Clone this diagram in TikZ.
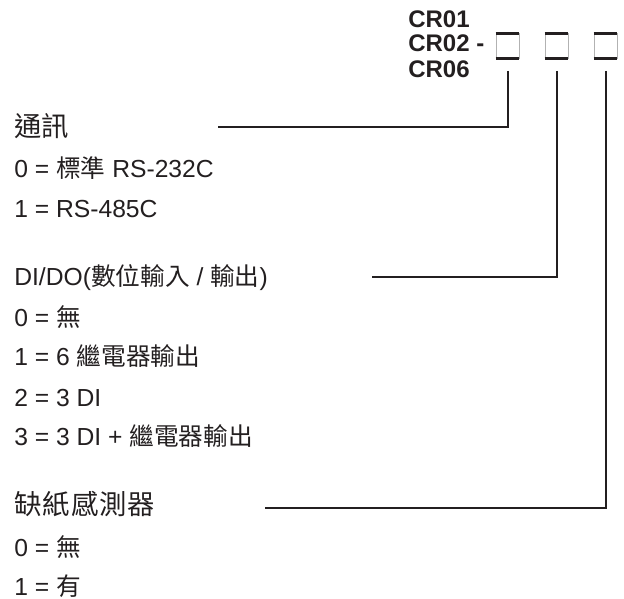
\documentclass[tikz,border=0pt]{standalone}
\usepackage{fontspec}
\setmainfont{Liberation Sans}
\newfontfamily\cjk{Noto Sans CJK TC}
\definecolor{ink}{RGB}{35,31,32}
\begin{document}
\begin{tikzpicture}[x=0.75pt,y=-0.75pt,
  txt/.style={anchor=base west,inner sep=0pt,font=\fontsize{18.5}{20}\selectfont,text=ink},
  head/.style={anchor=base west,inner sep=0pt,font=\fontsize{20.5}{22}\selectfont,text=ink},
  code/.style={anchor=base west,inner sep=0pt,font=\fontsize{18}{20}\selectfont\bfseries,text=ink},
  slot/.style={minimum width=17.25pt,minimum height=18.75pt,inner sep=0pt,draw=gray!60,line width=0.4pt},
  rule/.style={draw=ink,line width=2pt},
  conn/.style={draw=ink,line width=1.5pt}]
\useasboundingbox (0,0) rectangle (624,599);
% code
\node[code] (c1) at (408,28) {CR01};
\node[code] (c2) at (408,52) {CR02 -};
\node[code] (c3) at (408,78) {CR06};
\node[slot] (b1) at (507.5,46) {};
\node[slot] (b2) at (556.5,46) {};
\node[slot] (b3) at (605.5,46) {};
\foreach \b in {b1,b2,b3}{
  \draw[rule] (\b.north west) -- (\b.north east);
  \draw[rule] (\b.south west) -- (\b.south east);
}
% section 1
\node[head] (h1) at (14,137) {\cjk 通訊};
\node[txt] (s10) at (14,177) {0 = {\cjk 標準} RS-232C};
\node[txt] (s11) at (14,217) {1 = RS-485C};
% section 2
\node[txt] (h2) at (14,285) {DI/DO({\cjk 數位輸入} / {\cjk 輸出})};
\node[txt] (s20) at (14,326) {0 = {\cjk 無}};
\node[txt] (s21) at (14,365) {1 = 6 {\cjk 繼電器輸出}};
\node[txt] (s22) at (14,406) {2 = 3 DI};
\node[txt] (s23) at (14,445) {3 = 3 DI + {\cjk 繼電器輸出}};
% section 3
\node[head] (h3) at (14,514) {\cjk\addfontfeature{LetterSpace=4} 缺紙感測器};
\node[txt] (s30) at (14,556) {0 = {\cjk 無}};
\node[txt] (s31) at (14,595) {1 = {\cjk 有}};
% connectors
\coordinate (e1) at (218,127);
\coordinate (e2) at (372,277);
\coordinate (e3) at (265,508);
\draw[conn] ([yshift=-9pt]b1.south) |- (e1);
\draw[conn] ([yshift=-9pt]b2.south) |- (e2);
\draw[conn] ([yshift=-9pt]b3.south) |- (e3);
\end{tikzpicture}
\end{document}
